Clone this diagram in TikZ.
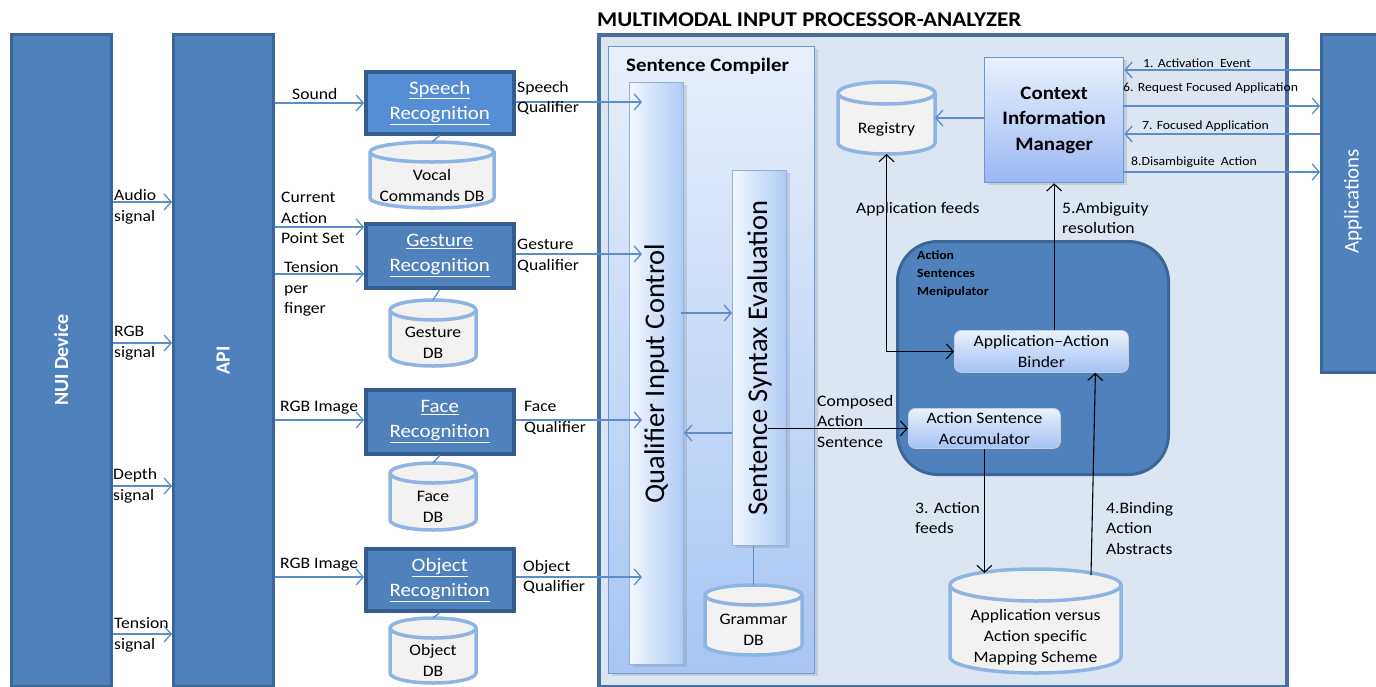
\documentclass[tikz,border=0pt]{standalone}
\usepackage{fontspec}
\setmainfont{Carlito}[FakeStretch=1.1]
\newfontfamily\uprightfam{Carlito}
\usetikzlibrary{arrows.meta,shadows,calc}

\definecolor{panelblue}{HTML}{4F81BD}
\definecolor{paneledge}{HTML}{3D6698}
\definecolor{speechblue}{HTML}{558ED5}
\definecolor{recedge}{HTML}{345C8E}
\definecolor{connblue}{HTML}{5B8DCB}
\definecolor{dbedge}{HTML}{8DB4E2}
\definecolor{dbfill}{HTML}{F2F2F2}
\definecolor{mipfill}{HTML}{DCE6F2}
\definecolor{mipedge}{HTML}{4A6E9E}
\definecolor{sctop}{HTML}{E8EFFB}
\definecolor{scbot}{HTML}{A8C5F4}
\definecolor{scedge}{HTML}{6A98D6}
\definecolor{barlight}{HTML}{F2F7FE}
\definecolor{bardark}{HTML}{AECAF4}
\definecolor{baredge}{HTML}{8EB0E2}
\definecolor{pilltop}{HTML}{EAF1FC}
\definecolor{pillbot}{HTML}{A3C1F3}
\definecolor{pilledge}{HTML}{B9CFF2}

\tikzset{
  panel/.style={fill=panelblue, draw=paneledge, line width=2.5pt, inner sep=0, anchor=north west},
  recog/.style={draw=recedge, line width=3.5pt, inner sep=0, anchor=north west, minimum width=148pt},
  rtext/.style={text=white, align=center, inner sep=0, font=\fontsize{19}{25}\selectfont},
  vtext/.style={rotate=90, inner sep=0, font=\uprightfam\fontsize{28.5}{30}\selectfont},
  lbl/.style={inner sep=0, align=left, anchor=west, font=\fontsize{16}{20.5}\selectfont},
  sml/.style={inner sep=0, anchor=west, font=\fontsize{12.5}{14}\selectfont},
  dbtext/.style={inner sep=0, align=center, font=\fontsize{16}{21}\selectfont},
  dbshape/.style={fill=dbfill, draw=dbedge, line width=3.5pt},
  dbline/.style={draw=dbedge, line width=3.5pt},
  conn/.style={draw=connblue, line width=1.3pt, -{Straight Barb[length=7pt,width=16pt]}},
  bconn/.style={draw=black, line width=1.1pt, -{Straight Barb[length=7pt,width=15pt]}},
  link/.style={draw=connblue, line width=1.3pt},
  pill/.style={rounded corners=7pt, top color=pilltop, bottom color=pillbot, draw=pilledge,
    line width=0.8pt, inner sep=0, anchor=north west,
    drop shadow={shadow xshift=2pt, shadow yshift=-2pt, opacity=0.3}},
  softshadow/.style={drop shadow={shadow xshift=3pt, shadow yshift=-2pt, opacity=0.25}}
}

% database cylinder: name, left, top, right, bottom, end radius, text
\newcommand\dbcyl[7]{%
  \path[dbshape] (#2,{#3+#6}) -- (#2,{#5-#6})
    arc[start angle=180, end angle=0, x radius={(#4-#2)/2}, y radius=#6]
    -- (#4,{#3+#6})
    arc[start angle=0, end angle=-180, x radius={(#4-#2)/2}, y radius=#6] -- cycle;
  \draw[dbline] (#2,{#3+#6}) arc[start angle=180, end angle=0, x radius={(#4-#2)/2}, y radius=#6];
  \node[inner sep=0, outer sep=0, anchor=north west, minimum width={(#4-#2)*1pt},
        minimum height={(#5-#3)*1pt}] (#1) at (#2,#3) {};
  \node[dbtext] (#1-text) at ({(#2+#4)/2},{(#3+2*#6+#5)/2}) {#7};
}

\begin{document}
\begin{tikzpicture}[x=1pt, y=-1pt]
\useasboundingbox (0,0) rectangle (1376,686);

% ---------- device and API columns ----------
\node[panel, minimum width=100pt, minimum height=652pt] (nui) at (10,33) {};
\node[rotate=90, text=white, inner sep=0, font=\uprightfam\bfseries\fontsize{20}{22}\selectfont] (nuitext) at (nui.center) {NUI Device};
\node[panel, minimum width=100pt, minimum height=652pt] (api) at (172,33) {};
\node[rotate=90, text=white, inner sep=0, font=\uprightfam\bfseries\fontsize{20}{22}\selectfont] (apitext) at (api.center) {API};

\draw[conn] (nui.east |- 0,202) -- (api.west |- 0,202);
\draw[conn] (nui.east |- 0,343) -- (api.west |- 0,343);
\draw[conn] (nui.east |- 0,486) -- (api.west |- 0,486);
\draw[conn] (nui.east |- 0,634) -- (api.west |- 0,634);
\node[lbl] (laudio) at (114,207) {Audio\\signal};
\node[lbl] (lrgbs) at (114,343) {RGB\\signal};
\node[lbl] (ldepth) at (113,486) {Depth\\signal};
\node[lbl] (ltension) at (114,635) {Tension\\signal};

% ---------- recognizers ----------
\node[recog, fill=speechblue, minimum height=62pt] (speech) at (364,70) {};
\node[rtext] (speechtext) at (speech.center) {\underline{Speech}\\\underline{Recognition}};
\node[recog, fill=panelblue, minimum height=64pt] (gesture) at (364,222) {};
\node[rtext] (gesturetext) at (gesture.center) {\underline{Gesture}\\\underline{Recognition}};
\node[recog, fill=panelblue, minimum height=64pt] (face) at (364,388) {};
\node[rtext] (facetext) at (face.center) {\underline{Face}\\\underline{Recognition}};
\node[recog, fill=panelblue, minimum height=62pt] (object) at (364,547) {};
\node[rtext] (objecttext) at (object.center) {\underline{Object}\\\underline{Recognition}};

\dbcyl{vocaldb}{370}{142}{494}{208}{10}{Vocal\\Commands DB}
\dbcyl{gesturedb}{390}{300}{476}{366}{10}{Gesture\\DB}
\dbcyl{facedb}{390}{463}{476}{530}{10}{Face\\DB}
\dbcyl{objectdb}{390}{618}{476}{683}{10}{Object\\DB}

\draw[link] (speech.south) -- (vocaldb.north);
\draw[link] (gesture.south) -- (gesturedb.north);
\draw[link] (face.south) -- (facedb.north);
\draw[link] (object.south) -- (objectdb.north);

\draw[conn] (api.east |- 0,103) -- (speech.west |- 0,103);
\draw[conn] (api.east |- 0,227) -- (gesture.west |- 0,227);
\draw[conn] (api.east |- 0,274) -- (gesture.west |- 0,274);
\draw[conn] (api.east |- 0,420) -- (face.west |- 0,420);
\draw[conn] (api.east |- 0,577) -- (object.west |- 0,577);
\node[lbl] (lsound) at (292,94) {Sound};
\node[lbl] (lcurrent) at (281,218) {Current\\Action\\Point Set};
\node[lbl] (ltpf) at (284,289) {Tension\\per\\finger};
\node[lbl] (lrgbf) at (280,408) {RGB Image};
\node[lbl] (lrgbo) at (280,565) {RGB Image};

% ---------- multimodal input processor-analyzer ----------
\node[anchor=west, inner sep=0, font=\bfseries\fontsize{21}{23}\selectfont] (title) at (597,20) {MULTIMODAL INPUT PROCESSOR-ANALYZER};
\node[fill=mipfill, draw=mipedge, line width=3.5pt, inner sep=0, anchor=north west,
      minimum width=688pt, minimum height=652pt] (mip) at (597,33) {};

% sentence compiler
\node[top color=sctop, bottom color=scbot, draw=scedge, line width=1.3pt, inner sep=0,
      anchor=north west, minimum width=206pt, minimum height=627pt, softshadow] (sc) at (608,46) {};
\node[anchor=west, inner sep=0, font=\bfseries\fontsize{19}{21}\selectfont] (sctitle) at (626,66) {Sentence Compiler};

\node[left color=barlight, right color=bardark, draw=baredge, line width=1pt, inner sep=0,
      anchor=north west, minimum width=54pt, minimum height=582pt, softshadow] (qic) at (629,82) {};
\node[vtext] (qictext) at (qic.center) {Qualifier Input Control};
\node[left color=barlight, right color=bardark, draw=baredge, line width=1pt, inner sep=0,
      anchor=north west, minimum width=54pt, minimum height=375pt, softshadow] (sse) at (732,170) {};
\node[vtext] (ssetext) at (sse.center) {Sentence Syntax Evaluation};

\dbcyl{grammardb}{705}{585}{802}{655}{10}{Grammar\\DB}
\draw[link] (grammardb.north |- sse.south) -- (grammardb.north);

\draw[conn] (speech.east |- 0,102) -- ($(qic.west |- 0,102)+(13,0)$);
\draw[conn] (gesture.east |- 0,254) -- ($(qic.west |- 0,254)+(13,0)$);
\draw[conn] (face.east |- 0,420) -- ($(qic.west |- 0,420)+(13,0)$);
\draw[conn] (object.east |- 0,577) -- ($(qic.west |- 0,577)+(13,0)$);
\node[lbl] (lspeechq) at (517,98) {Speech\\Qualifier};
\node[lbl] (lgestureq) at (517,256) {Gesture\\Qualifier};
\node[lbl] (lfaceq) at (524,418) {Face\\Qualifier};
\node[lbl] (lobjectq) at (523,577) {Object\\Qualifier};

\draw[conn] ($(qic.east |- 0,313)+(-3,0)$) -- (sse.west |- 0,313);
\draw[conn] (sse.west |- 0,433) -- (qic.east |- 0,433);

% registry and context manager
\dbcyl{registry}{838}{82}{935}{154}{11}{Registry}
\node[top color=pilltop, bottom color=pillbot!95!blue, draw=scedge, line width=1.3pt, inner sep=0,
      anchor=north west, minimum width=139pt, minimum height=125pt, softshadow] (cim) at (984,57) {};
\node[align=center, inner sep=0, font=\bfseries\fontsize{19}{25.5}\selectfont] (cimtext) at (cim.center) {Context\\Information\\Manager};
\draw[conn] (cim.west |- 0,118) -- (registry.east |- 0,118);

% applications
\node[panel, minimum width=60pt, minimum height=338pt] (apps) at (1320,33) {};
\node[rotate=90, text=white, inner sep=0, font=\uprightfam\fontsize{21}{23}\selectfont] (appstext) at (1353,201) {Applications};

\draw[conn] (apps.west |- 0,70) -- (cim.east |- 0,70);
\draw[conn] (cim.east |- 0,106) -- (apps.west |- 0,106);
\draw[conn] (apps.west |- 0,134) -- (cim.east |- 0,134);
\draw[conn] (cim.east |- 0,172) -- (apps.west |- 0,172);
\node[sml] (l1) at (1143,63) {1. Activation\ \ Event};
\node[sml] (l6) at (1123,88) {6. Request Focused Application};
\node[sml] (l7) at (1142,126) {7. Focused Application};
\node[sml] (l8) at (1131,162) {8.Disambiguite\ \ Action};

% action sentences manipulator
\node[fill=panelblue, draw=paneledge, line width=3pt, rounded corners=40pt, inner sep=0,
      anchor=north west, minimum width=271pt, minimum height=233pt] (asm) at (896,240) {};
\node[anchor=north west, align=left, inner sep=0, font=\bfseries\fontsize{12.5}{18}\selectfont] (asmtext) at (917,251) {Action\\Sentences\\Menipulator};

\node[pill, minimum width=174pt, minimum height=42pt] (binder) at (954,330) {};
\node[dbtext] (bindertext) at (binder.center) {Application–Action\\Binder};
\node[pill, minimum width=152pt, minimum height=40pt] (acc) at (908,408) {};
\node[dbtext] (acctext) at (acc.center) {Action Sentence\\Accumulator};

\dbcyl{mapping}{950}{569}{1121}{673}{16}{Application versus\\Action specific\\Mapping Scheme}

% black flows
\draw[bconn] ($(sse.center |- acc.west)+(8,0)$) -- (acc.west);
\node[lbl] (lcomposed) at (817,421) {Composed\\Action\\Sentence};
\draw[bconn, {Straight Barb[length=7pt,width=15pt]}-{Straight Barb[length=7pt,width=15pt]}] (registry.south) |- (binder.west);
\node[lbl] (lappfeeds) at (856,209) {Application feeds};
\draw[bconn] (binder.north -| cim.south) -- (cim.south);
\node[lbl] (lamb) at (1062,218) {5.Ambiguity\\resolution};
\draw[bconn] (acc.south) -- ($(acc.south |- mapping.north)+(0,4)$);
\node[lbl] (lactfeeds) at (915,518) {3. Action\\feeds};
\draw[bconn] ($(mapping.north)+(55.5,6)$) -- ($(binder.south)+(54,0)$);
\node[lbl] (lbinding) at (1106,528) {4.Binding\\Action\\Abstracts};

\end{tikzpicture}
\end{document}
